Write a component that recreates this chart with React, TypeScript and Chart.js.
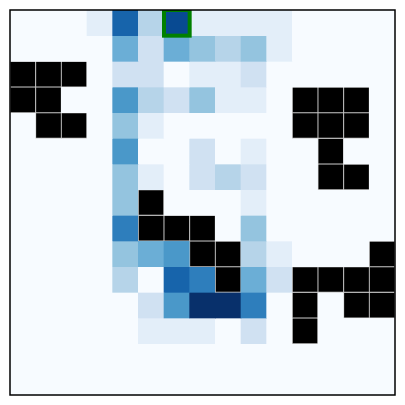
import React, { useEffect, useRef } from "react";
import { Chart, registerables } from "chart.js";

Chart.register(...registerables);

const W = -1; // wall cell

const columns = ["0", "1", "2", "3", "4", "5", "6", "7", "8", "9", "10", "11", "12", "13", "14"];

const row0 = [0, 0, 0, 1, 8, 3, 9, 1, 1, 1, 1, 0, 0, 0, 0];
const row1 = [0, 0, 0, 0, 5, 2, 5, 4, 3, 4, 1, 0, 0, 0, 0];
const row2 = [W, W, W, 0, 2, 2, 0, 1, 1, 2, 0, 0, 0, 0, 0];
const row3 = [W, W, 0, 0, 6, 3, 2, 4, 1, 1, 0, W, W, W, 0];
const row4 = [0, W, W, 0, 4, 1, 0, 0, 0, 0, 0, W, W, W, 0];
const row5 = [0, 0, 0, 0, 6, 0, 0, 2, 0, 1, 0, 0, W, 0, 0];
const row6 = [0, 0, 0, 0, 4, 1, 0, 2, 3, 2, 0, 0, W, W, 0];
const row7 = [0, 0, 0, 0, 4, W, 0, 0, 0, 1, 0, 0, 0, 0, 0];
const row8 = [0, 0, 0, 0, 7, W, W, W, 0, 4, 0, 0, 0, 0, 0];
const row9 = [0, 0, 0, 0, 4, 5, 6, W, W, 3, 1, 0, 0, 0, W];
const row10 = [0, 0, 0, 0, 3, 0, 8, 7, W, 5, 2, W, W, W, W];
const row11 = [0, 0, 0, 0, 0, 2, 6, 10, 10, 7, 0, W, 0, W, W];
const row12 = [0, 0, 0, 0, 0, 1, 1, 1, 0, 2, 0, W, 0, 0, 0];
const row13 = [0, 0, 0, 0, 0, 0, 0, 0, 0, 0, 0, 0, 0, 0, 0];
const row14 = [0, 0, 0, 0, 0, 0, 0, 0, 0, 0, 0, 0, 0, 0, 0];

const grid = [row0, row1, row2, row3, row4, row5, row6, row7, row8, row9, row10, row11, row12, row13, row14];
const maxValue = 10;
const goalCell = { row: 0, col: 6 };

const bluesStops: [number, number, number][] = [
  [247, 251, 255],
  [222, 235, 247],
  [198, 219, 239],
  [158, 202, 225],
  [107, 174, 214],
  [66, 146, 198],
  [33, 113, 181],
  [8, 81, 156],
  [8, 48, 107],
];

function blues(t: number): string {
  const x = Math.max(0, Math.min(1, t)) * (bluesStops.length - 1);
  const i = Math.min(Math.floor(x), bluesStops.length - 2);
  const f = x - i;
  const a = bluesStops[i];
  const b = bluesStops[i + 1];
  const c = a.map((v, k) => Math.round(v + (b[k] - v) * f));
  return `rgb(${c[0]},${c[1]},${c[2]})`;
}

const framePlugin = {
  id: "framePlugin",
  afterDatasetsDraw(chart: any) {
    const { ctx, chartArea, scales } = chart;
    const xs = scales.x;
    const ys = scales.y;
    const half = (xs.getPixelForValue(1) - xs.getPixelForValue(0)) / 2;
    const cx = xs.getPixelForValue(goalCell.col);
    const y0 = ys.getPixelForValue(goalCell.row);
    const y1 = ys.getPixelForValue(goalCell.row + 1);
    ctx.save();
    ctx.beginPath();
    ctx.rect(chartArea.left, chartArea.top, chartArea.right - chartArea.left, chartArea.bottom - chartArea.top);
    ctx.clip();
    ctx.strokeStyle = "#008000";
    ctx.lineWidth = 4;
    ctx.strokeRect(cx - half, Math.min(y0, y1), 2 * half, Math.abs(y1 - y0));
    ctx.restore();
    ctx.save();
    ctx.strokeStyle = "#000000";
    ctx.lineWidth = 1.5;
    ctx.strokeRect(chartArea.left, chartArea.top, chartArea.right - chartArea.left, chartArea.bottom - chartArea.top);
    ctx.restore();
  },
};

export default function App() {
  const ref = useRef<HTMLCanvasElement | null>(null);
  useEffect(() => {
    if (!ref.current) return;
    const datasets = grid.map((row, r) => ({
      label: `row ${r}`,
      data: row.map(() => [r, r + 1]),
      backgroundColor: row.map((v) => (v === W ? "#000000" : blues(v / maxValue))),
      borderColor: row.map((v) => (v === W ? "#c8c8c8" : "rgba(0,0,0,0)")),
      borderWidth: row.map((v) => (v === W ? 0.8 : 0)),
      borderSkipped: false,
      barPercentage: 1,
      categoryPercentage: 1,
    }));
    const chart = new Chart(ref.current, {
      type: "bar",
      data: { labels: columns, datasets: datasets as any },
      options: {
        animation: false,
        responsive: false,
        maintainAspectRatio: false,
        layout: { padding: { left: 10, top: 10, right: 10, bottom: 10 } },
        plugins: { legend: { display: false }, tooltip: { enabled: false } },
        scales: {
          x: { type: "category", stacked: true, display: false, offset: true },
          y: { type: "linear", min: 0, max: 15, reverse: true, display: false },
        },
      },
      plugins: [framePlugin],
    });
    return () => chart.destroy();
  }, []);
  return (
    <div style={{ position: "fixed", left: 0, top: 0, width: 405, height: 405, background: "#ffffff" }}>
      <canvas ref={ref} width={405} height={405} style={{ width: 405, height: 405 }} />
    </div>
  );
}
